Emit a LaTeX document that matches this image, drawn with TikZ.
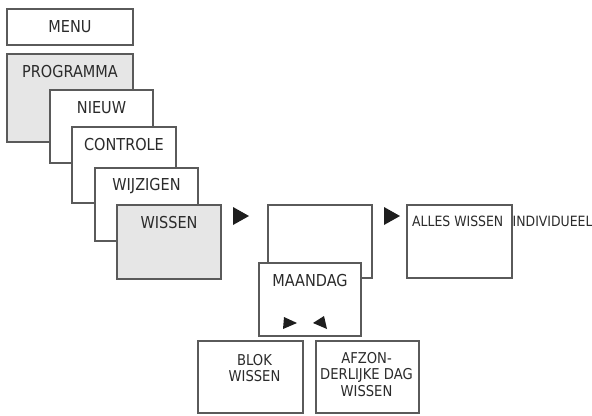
\documentclass[tikz,border=0pt]{standalone}
\usepackage{fontspec}
\setmainfont{DejaVu Sans}[FakeStretch=0.88]
\usetikzlibrary{calc}
\definecolor{edgecol}{HTML}{5A5A5A}
\definecolor{graycol}{HTML}{E6E6E6}
\definecolor{textcol}{HTML}{2B2B2B}
\definecolor{arrowcol}{HTML}{1E1E1E}
\tikzset{
  box/.style={draw=edgecol, line width=1.2bp, fill=white, anchor=north west, inner sep=0pt, outer sep=0pt},
  graybox/.style={box, fill=graycol},
  lbl/.style={anchor=center, yshift=-17.5bp, inner sep=0pt, text depth=0pt, text=textcol, font=\fontsize{16.5}{19}\selectfont},
  mlbl/.style={anchor=north, inner sep=0pt, align=center, text=textcol, font=\fontsize{15}{16.5}\selectfont},
  sidetxt/.style={anchor=west, inner sep=0pt, text depth=0pt, text=textcol, font=\fontsize{14.2}{16}\selectfont},
  tri/.style={fill=arrowcol}
}
\begin{document}
\begin{tikzpicture}[x=1bp,y=-1bp]
\useasboundingbox (0,0) rectangle (592,415);
% left cascade
\node[box, minimum width=126bp, minimum height=36bp, label={[lbl, yshift=-0.5bp]north:MENU}] (menu) at (7,9) {};
\node[graybox, minimum width=126bp, minimum height=88bp, label={[lbl]north:PROGRAMMA}] (prog) at (7,54) {};
\node[box, minimum width=103bp, minimum height=73bp, label={[lbl]north:NIEUW}] (nieuw) at (50,90) {};
\node[box, minimum width=104bp, minimum height=76bp, label={[lbl]north:CONTROLE}] (controle) at (72,127) {};
\node[box, minimum width=103bp, minimum height=73bp, label={[lbl, yshift=1bp]north:WIJZIGEN}] (wijzigen) at (95,168) {};
\node[graybox, minimum width=104bp, minimum height=74bp, label={[lbl]north:WISSEN}] (wissen) at (117,205) {};
% middle
\node[box, minimum width=104bp, minimum height=73bp] (mid) at (268,205) {};
\node[box, minimum width=102bp, minimum height=73bp, label={[lbl]north:MAANDAG}] (maandag) at (259,263) {};
% right
\node[box, minimum width=105bp, minimum height=73bp] (alles) at (407,205) {};
\node[sidetxt] (allestxt) at ($(alles.north west)+(5,16)$) {ALLES WISSEN};
\node[sidetxt] (indiv) at ($(alles.north east)+(0.5,16)$) {INDIVIDUEEL};
% bottom
\node[box, minimum width=105bp, minimum height=72bp, label={[mlbl, yshift=-13bp, xshift=4bp]north:BLOK\\WISSEN}] (blok) at (198,341) {};
\node[box, minimum width=103bp, minimum height=72bp, label={[mlbl, yshift=-11bp, xshift=-1bp]north:AFZON-\\DERLIJKE DAG\\WISSEN}] (afzon) at (316,341) {};
% triangles
\fill[tri] ($(wissen.north east)+(12,2)$) -- ++(16,9) -- ++(-16,9) -- cycle;
\fill[tri] ($(mid.north east)+(12,2)$) -- ++(16,9) -- ++(-16,9) -- cycle;
\fill[tri] ($(maandag.south west)+(25,-19)$) -- ($(maandag.south west)+(38,-13)$) -- ($(maandag.south west)+(24,-7)$) -- cycle;
\fill[tri] ($(maandag.south east)+(-37,-20)$) -- ($(maandag.south east)+(-48,-13)$) -- ($(maandag.south east)+(-34,-7)$) -- cycle;
\end{tikzpicture}
\end{document}
